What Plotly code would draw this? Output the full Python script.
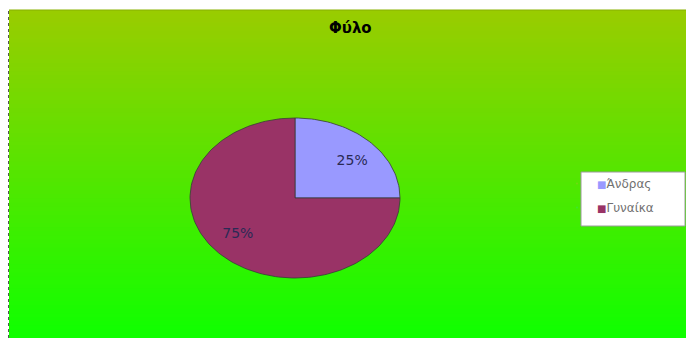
import math
import plotly.graph_objects as go

# Data
categories = ["Άνδρας", "Γυναίκα"]
values = [25, 75]
colors = ["#9999FF", "#993366"]
title_text = "Φύλο"

W, H = 686, 338
cx, cy, rx, ry = 295, 198, 105, 80   # pie ellipse in pixel space
label_rx, label_ry = 0.77, 0.65

fig = go.Figure()

# Elliptical pie wedges built from the values (clockwise from 12 o'clock)
total = sum(values)
start = 0.0
for name, v, col in zip(categories, values, colors):
    frac = v / total
    a0, a1 = start * 2 * math.pi, (start + frac) * 2 * math.pi
    n = max(8, int(200 * frac))
    xs, ys = [cx], [cy]
    for i in range(n + 1):
        t = a0 + (a1 - a0) * i / n
        xs.append(cx + rx * math.sin(t))
        ys.append(cy - ry * math.cos(t))
    xs.append(cx)
    ys.append(cy)
    fig.add_trace(go.Scatter(
        x=xs, y=ys, mode="lines", fill="toself", fillcolor=col,
        line=dict(color="#3a3a3a", width=0.8), showlegend=False,
        hoverinfo="skip"))
    mid = (a0 + a1) / 2
    fig.add_trace(go.Scatter(
        x=[cx + rx * label_rx * math.sin(mid)],
        y=[cy - ry * label_ry * math.cos(mid)],
        mode="text", text=[f"{frac * 100:.0f}%"],
        textfont=dict(family="DejaVu Sans", size=14, color="#2a2a55"),
        showlegend=False, hoverinfo="skip"))
    start += frac

# Legend entries: coloured square glyph placed right before the name
for i, (name, col) in enumerate(zip(categories, colors)):
    fig.add_trace(go.Scatter(
        x=[None], y=[None], mode="markers", legendgroup=f"g{i}",
        name=f"<span style='color:{col};font-size:10px'>■</span>{name}",
        marker=dict(size=1, opacity=0)))

# Gradient background as stacked bands
top_c = (153, 204, 0)
bot_c = (16, 255, 0)
y0px, x0px = 10, 9
nb = 80
shapes = [dict(type="rect", xref="paper", yref="paper", x0=0, x1=1, y0=0, y1=1,
               fillcolor="white", line=dict(width=0), layer="below")]
for i in range(nb):
    f = i / (nb - 1)
    c = tuple(round(top_c[k] + (bot_c[k] - top_c[k]) * f) for k in range(3))
    ya = y0px + (H - y0px) * i / nb
    yb = y0px + (H - y0px) * (i + 1) / nb
    shapes.append(dict(type="rect", xref="paper", yref="paper",
                       x0=x0px / W, x1=1, y0=1 - yb / H - 0.002, y1=1 - ya / H,
                       fillcolor="rgb(%d,%d,%d)" % c, line=dict(width=0),
                       layer="below"))
shapes.append(dict(type="line", xref="paper", yref="paper",
                   x0=(x0px - 0.5) / W, x1=(x0px - 0.5) / W, y0=0, y1=1 - y0px / H,
                   line=dict(color="#555", width=1, dash="dot"), layer="below"))
shapes.append(dict(type="line", xref="paper", yref="paper",
                   x0=x0px / W, x1=1, y0=1 - y0px / H, y1=1 - y0px / H,
                   line=dict(color="#88b000", width=1), layer="below"))
# Legend frame
shapes.append(dict(type="rect", xref="paper", yref="paper",
                   x0=581 / W, x1=685 / W, y0=1 - 226 / H, y1=1 - 172 / H,
                   fillcolor="white", line=dict(color="#9a9a9a", width=1),
                   layer="below"))

fig.update_layout(
    width=W, height=H, margin=dict(l=0, r=0, t=0, b=0),
    paper_bgcolor="white", plot_bgcolor="rgba(0,0,0,0)",
    xaxis=dict(range=[0, W], visible=False, fixedrange=True),
    yaxis=dict(range=[H, 0], visible=False, fixedrange=True),
    shapes=shapes,
    annotations=[dict(text=f"<b>{title_text}</b>", xref="paper", yref="paper",
                      x=350 / W, y=1 - 28 / H, yanchor="middle", showarrow=False,
                      font=dict(family="DejaVu Sans", size=15, color="black"))],
    legend=dict(x=557 / W, y=1 - 169 / H, xanchor="left", yanchor="top",
                bgcolor="rgba(0,0,0,0)", borderwidth=0,
                font=dict(family="DejaVu Sans", size=12, color="#707070"),
                itemwidth=30, tracegroupgap=5),
    showlegend=True,
)

fig.write_html("out.html")
